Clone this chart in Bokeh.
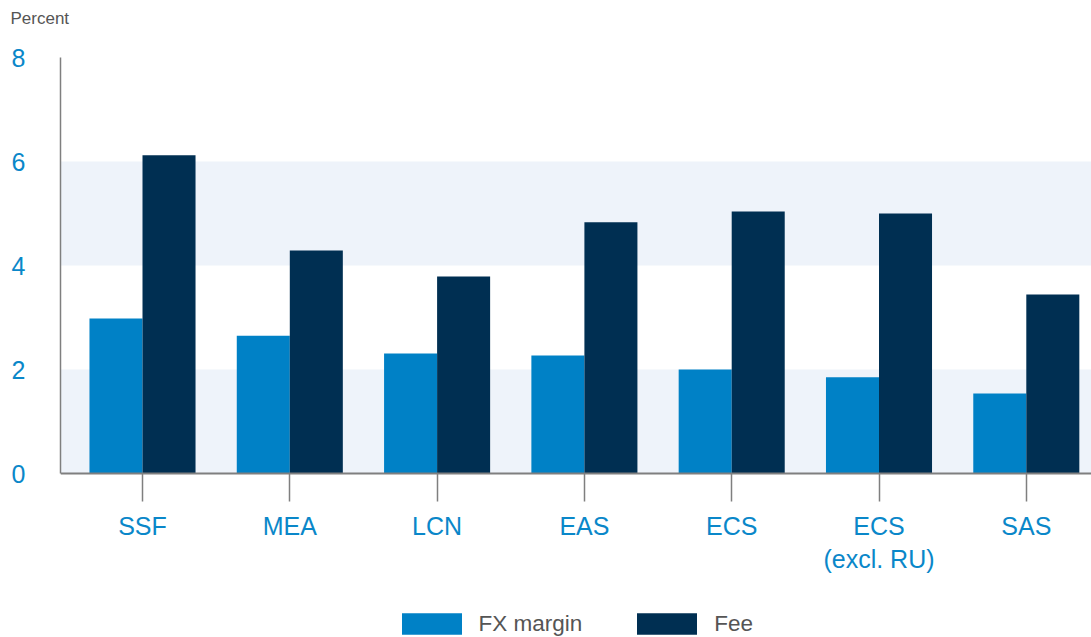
from bokeh.plotting import figure
from bokeh.models import (ColumnDataSource, Range1d, FixedTicker,
                          BoxAnnotation, Legend, LegendItem, Title)
from bokeh.embed import file_html
from bokeh.resources import INLINE

# ---- data ----
regions = ["SSF", "MEA", "LCN", "EAS", "ECS", "ECS\n(excl. RU)", "SAS"]
fx_margin = [2.98, 2.65, 2.31, 2.27, 2.00, 1.85, 1.54]
fee = [6.12, 4.29, 3.79, 4.83, 5.04, 5.00, 3.44]
y_ticks = [0, 2, 4, 6, 8]
series_names = ["FX margin", "Fee"]

# ---- styles / layout ----
FX_COLOR = "#0081C6"
FEE_COLOR = "#002F52"
BAND_COLOR = "#EEF3FA"
TICK_TEXT = "#0A87C9"
GREY_TEXT = "#555555"
AXIS_GREY = "#7F7F7F"
FONT = "Liberation Sans"

W, H = 1091, 637
LEFT = 60
FRAME_TOP = 32              # frame starts here; the axis itself starts at 57
AXIS_TOP = 57
PX_PER_UNIT = 52.0          # vertical pixels per percent
PX_PER_CAT = 147.3          # horizontal pixels per category
frame_h = H - FRAME_TOP
y_top = 8 + (AXIS_TOP - FRAME_TOP) / PX_PER_UNIT
y_bottom = y_top - frame_h / PX_PER_UNIT
x_start = -8.35 / PX_PER_CAT
x_end = x_start + (W - LEFT) / PX_PER_CAT
BAR_W = 0.36

n = len(regions)
centers = [i + 0.5 for i in range(n)]
source = ColumnDataSource(dict(
    region=regions, center=centers,
    x_fx=[c - BAR_W / 2 for c in centers],
    x_fee=[c + BAR_W / 2 for c in centers],
    fx=fx_margin, fee=fee))

p = figure(
    x_range=Range1d(x_start, x_end),
    y_range=Range1d(y_bottom, y_top),
    width=W, height=H,
    output_backend="svg", toolbar_location=None,
    min_border_left=LEFT, min_border_right=0,
    min_border_top=FRAME_TOP, min_border_bottom=0,
)
p.outline_line_color = None
p.xgrid.grid_line_color = None
p.ygrid.grid_line_color = None
p.background_fill_color = "white"
p.border_fill_color = "white"

# alternating bands
for lo, hi in [(0, 2), (4, 6)]:
    p.add_layout(BoxAnnotation(bottom=lo, top=hi, fill_color=BAND_COLOR,
                               fill_alpha=1, line_color=None, level="underlay"))

r_fx = p.vbar(x="x_fx", top="fx", width=BAR_W, source=source,
              fill_color=FX_COLOR, line_color=None)
r_fee = p.vbar(x="x_fee", top="fee", width=BAR_W, source=source,
               fill_color=FEE_COLOR, line_color=None)

# y axis
p.yaxis.ticker = FixedTicker(ticks=y_ticks)
p.yaxis.bounds = (0, 8)
p.yaxis.minor_tick_line_color = None
p.yaxis.major_tick_line_color = None
p.yaxis.major_tick_out = 0
p.yaxis.major_tick_in = 0
p.yaxis.major_label_standoff = 35
p.yaxis.axis_line_color = AXIS_GREY
p.yaxis.axis_line_width = 1.5
p.yaxis.major_label_text_font = FONT
p.yaxis.major_label_text_font_size = "25px"
p.yaxis.major_label_text_color = TICK_TEXT

# x axis (category labels), drawn at y = 0 inside the frame
p.xaxis.ticker = FixedTicker(ticks=centers, minor_ticks=[])
p.xaxis.major_label_overrides = {c: r for c, r in zip(centers, regions)}
p.xaxis.fixed_location = 0
p.xaxis.axis_line_color = AXIS_GREY
p.xaxis.axis_line_width = 2
p.xaxis.major_tick_line_color = AXIS_GREY
p.xaxis.major_tick_line_width = 1.5
p.xaxis.major_tick_out = 28
p.xaxis.major_tick_in = 0
p.xaxis.minor_tick_line_color = None
p.xaxis.major_label_standoff = 10
p.xaxis.major_label_text_font = FONT
p.xaxis.major_label_text_font_size = "25px"
p.xaxis.major_label_text_color = TICK_TEXT
p.xaxis.major_label_orientation = "horizontal"

# "Percent" unit label
p.title = Title(text="Percent", align="left", offset=-50, standoff=9,
                text_font=FONT, text_font_size="17px", text_font_style="normal",
                text_color=GREY_TEXT)

legend = Legend(
    items=[LegendItem(label=series_names[0], renderers=[r_fx]),
           LegendItem(label=series_names[1], renderers=[r_fee])],
    orientation="horizontal", location=(333.5, 0),
    glyph_width=75, glyph_height=27, label_height=27,
    label_standoff=10, spacing=47, padding=0, margin=0,
    border_line_color=None, background_fill_alpha=0,
    label_text_font=FONT, label_text_font_size="22.5px",
    label_text_color=GREY_TEXT,
)
p.add_layout(legend, "center")

open("out.html", "w").write(file_html(p, INLINE))
